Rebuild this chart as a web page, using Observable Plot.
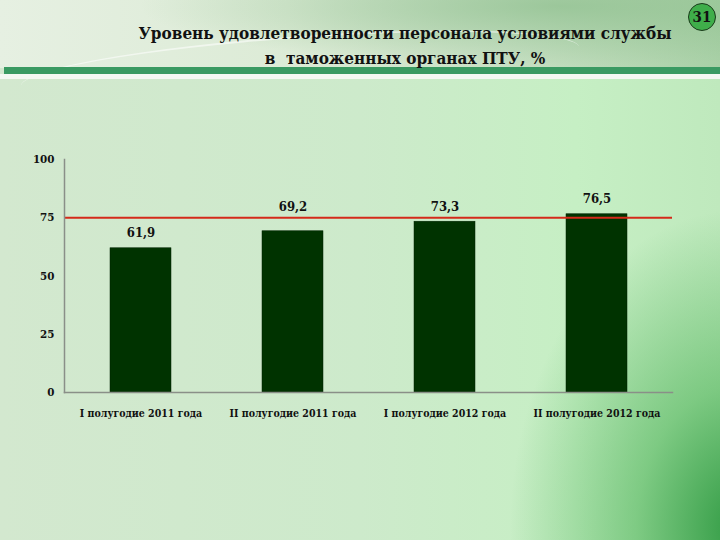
<!DOCTYPE html>
<html><head><meta charset="utf-8">
<script src="https://cdn.jsdelivr.net/npm/d3@7"></script>
<script src="https://cdn.jsdelivr.net/npm/@observablehq/plot@0.6"></script>
<style>
html,body{margin:0;padding:0;width:720px;height:540px;overflow:hidden;}
body{position:relative;font-family:"DejaVu Serif Condensed","DejaVu Serif",serif;
background:
 radial-gradient(ellipse 230px 320px at 740px 530px, rgba(40,150,60,0.95), rgba(80,180,90,0.6) 45%, rgba(200,240,200,0) 100%),
 linear-gradient(90deg,#d3e8cf 0%,#cdeacb 50%,#c6efc4 80%,#bfe9bd 100%);}
#banner{position:absolute;left:0;top:0;width:720px;height:68px;
background:
 radial-gradient(ellipse 420px 60px at 560px 6px, rgba(140,190,140,0.7), rgba(140,190,140,0) 100%),
 linear-gradient(90deg,#e6f0e2 0%,#dcebd6 40%,#c8e0c4 70%,#a8d0a6 100%);}
#swoosh{position:absolute;left:20px;top:36px;width:560px;height:60px;border-top:2px solid rgba(255,255,255,0.55);border-radius:50%;transform:rotate(-4deg);}
#gline{position:absolute;left:4px;top:67px;width:716px;height:7px;background:#3a9a62;}
#wline{position:absolute;left:0;top:74px;width:720px;height:5px;background:#f4f8f2;}
#title{position:absolute;left:90px;width:630px;top:21px;text-align:center;font-weight:bold;font-size:17px;line-height:25px;color:#111;font-family:"DejaVu Serif Condensed","DejaVu Serif",serif;font-stretch:condensed;}
#num{position:absolute;left:688px;top:3px;width:28px;height:28px;border-radius:50%;background:#3fae4a;border:1.5px solid #1a3a1a;text-align:center;line-height:26px;font-weight:bold;font-size:15px;color:#111;box-sizing:border-box;font-family:"DejaVu Serif Condensed","DejaVu Serif",serif;}
#chart{position:absolute;left:0;top:0;}
</style></head>
<body>
<div id="banner"></div>
<div id="swoosh"></div>
<div id="gline"></div>
<div id="wline"></div>
<div id="title">Уровень удовлетворенности персонала условиями службы<br>в&nbsp; таможенных органах ПТУ, %</div>
<div id="num">31</div>
<div id="chart"></div>
<script>
const categories = ["I полугодие 2011 года","II полугодие 2011 года","I полугодие 2012 года","II полугодие 2012 года"];
const values = [61.9, 69.2, 73.3, 76.5];
const valueLabels = ["61,9","69,2","73,3","76,5"];
const yTicks = [0, 25, 50, 75, 100];
const targetLevel = [75];

const data = categories.map((c,i)=>({cat:c, v:values[i], lab:valueLabels[i], i}));
const serif = "'DejaVu Serif Condensed', 'DejaVu Serif', serif";

const chart = Plot.plot({
  width: 720, height: 540,
  marginTop: 159, marginBottom: 148, marginLeft: 64, marginRight: 48,
  style: {background: "transparent", fontFamily: serif, fontSize: "12px", fontWeight: "bold", color: "#111", overflow: "visible"},
  x: {domain: categories, paddingInner: 0.6, paddingOuter: 0.3, label: null},
  y: {domain: [0, 100], ticks: yTicks, label: null},
  marks: [
    Plot.barY(data, {x: "cat", y: "v", fill: "#003300", stroke: "#002200", strokeWidth: 0.5}),
    Plot.text(data.filter(d => d.i !== 1), {x: "cat", y: "v", text: "lab", dy: -15, fontSize: 13, fontWeight: "bold", fill: "#111", fontFamily: serif}),
    Plot.text(data.filter(d => d.i === 1), {x: "cat", y: "v", text: "lab", dy: -24, fontSize: 13, fontWeight: "bold", fill: "#111", fontFamily: serif}),
    Plot.ruleY(targetLevel, {stroke: "#d42a1a", strokeWidth: 2}),
    Plot.axisX({tickSize: 0, tickPadding: 17, label: null, fontSize: 10.5}),
    Plot.axisY({ticks: yTicks, tickSize: 0, tickPadding: 10, label: null, fontSize: 11.5, tickFormat: d => String(d)}),
    Plot.frame({anchor: "left", stroke: "#8a8f88", strokeWidth: 1.5}),
    Plot.frame({anchor: "bottom", stroke: "#8a8f88", strokeWidth: 1.5})
  ]
});
document.getElementById("chart").appendChild(chart);
</script>
</body></html>
